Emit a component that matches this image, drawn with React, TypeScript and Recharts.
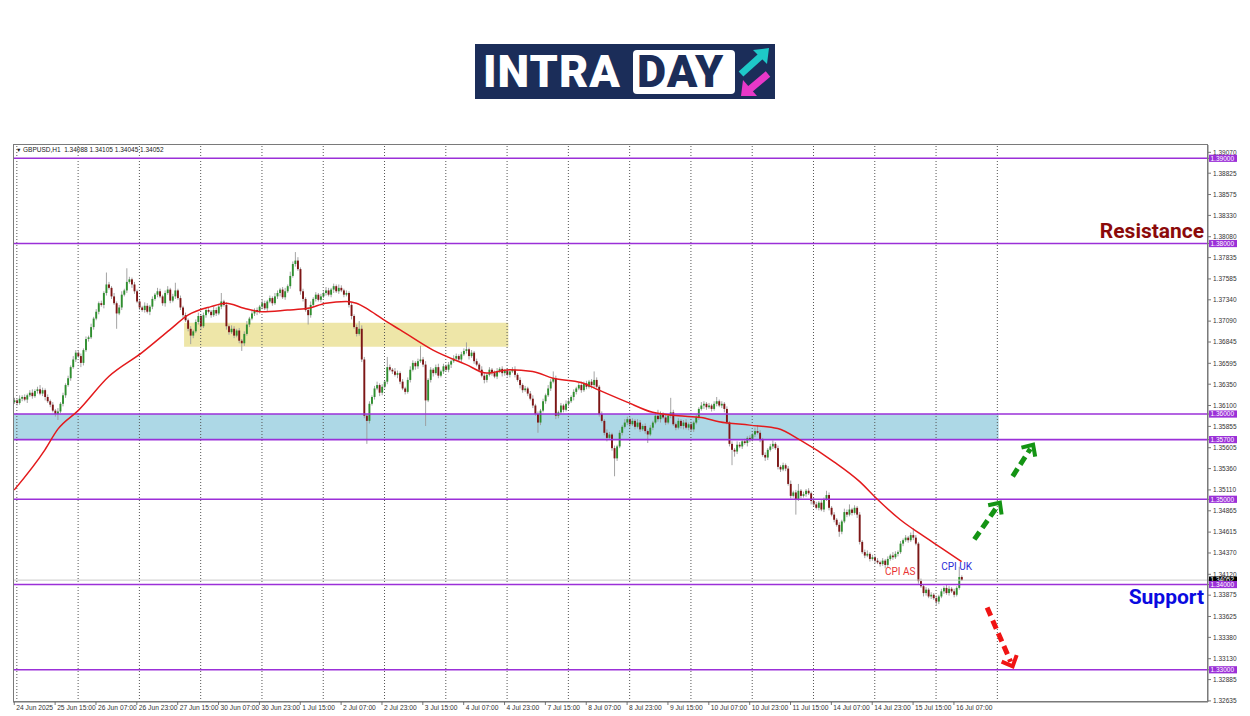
import React from 'react';
import { ComposedChart, Bar, Line, XAxis, YAxis, ReferenceLine, ReferenceArea, ReferenceDot } from 'recharts';

// ---------- DATA ----------
const firstOpen = 1.3614;
const closes = [
  1.3616, 1.3613, 1.3618, 1.3620, 1.3617, 1.3622, 1.3625, 1.3621, 1.3627, 1.3629,
  1.3624, 1.3628, 1.3620, 1.3615, 1.3611, 1.3604, 1.3600, 1.3603, 1.3612, 1.3622,
  1.3634, 1.3642, 1.3655, 1.3664, 1.3672, 1.3668, 1.3660, 1.3675, 1.3688, 1.3690,
  1.3702, 1.3712, 1.3720, 1.3730, 1.3728, 1.3742, 1.3752, 1.3748, 1.3738, 1.3730,
  1.3718, 1.3725, 1.3740, 1.3745, 1.3755, 1.3758, 1.3752, 1.3744, 1.3732, 1.3725,
  1.3722, 1.3727, 1.3720, 1.3726, 1.3735, 1.3740, 1.3744, 1.3738, 1.3730, 1.3742,
  1.3746, 1.3733, 1.3738, 1.3745, 1.3736, 1.3725, 1.3716, 1.3710, 1.3700, 1.3692,
  1.3697, 1.3708, 1.3715, 1.3703, 1.3716, 1.3722, 1.3720, 1.3716, 1.3722, 1.3718,
  1.3726, 1.3732, 1.3728, 1.3703, 1.3696, 1.3700, 1.3692, 1.3698, 1.3686, 1.3683,
  1.3694, 1.3705, 1.3712, 1.3718, 1.3722, 1.3720, 1.3726, 1.3730, 1.3724, 1.3732,
  1.3736, 1.3730, 1.3738, 1.3742, 1.3746, 1.3737, 1.3744, 1.3750, 1.3762, 1.3776,
  1.3780, 1.3770, 1.3744, 1.3735, 1.3722, 1.3716, 1.3728, 1.3735, 1.3740, 1.3734,
  1.3738, 1.3742, 1.3745, 1.3740, 1.3746, 1.3750, 1.3744, 1.3748, 1.3745, 1.3740,
  1.3742, 1.3728, 1.3715, 1.3702, 1.3694, 1.3700, 1.3664, 1.3598, 1.3592, 1.3612,
  1.3620, 1.3630, 1.3634, 1.3625, 1.3632, 1.3638, 1.3655, 1.3652, 1.3650, 1.3646,
  1.3648, 1.3638, 1.3630, 1.3626, 1.3640, 1.3652, 1.3660, 1.3656, 1.3662, 1.3664,
  1.3658, 1.3616, 1.3640, 1.3652, 1.3648, 1.3655, 1.3645, 1.3650, 1.3656, 1.3652,
  1.3658, 1.3662, 1.3665, 1.3668, 1.3664, 1.3670, 1.3674, 1.3676, 1.3668, 1.3672,
  1.3662, 1.3658, 1.3652, 1.3645, 1.3640, 1.3646, 1.3652, 1.3648, 1.3644, 1.3650,
  1.3653, 1.3648, 1.3651, 1.3646, 1.3650, 1.3652, 1.3646, 1.3640, 1.3634, 1.3628,
  1.3630, 1.3624, 1.3618, 1.3610, 1.3600, 1.3590, 1.3604, 1.3615, 1.3622, 1.3630,
  1.3638, 1.3642, 1.3598, 1.3602, 1.3610, 1.3605, 1.3612, 1.3615, 1.3620, 1.3626,
  1.3630, 1.3634, 1.3628, 1.3636, 1.3632, 1.3638, 1.3634, 1.3640, 1.3632, 1.3600,
  1.3592, 1.3578, 1.3572, 1.3576, 1.3560, 1.3548, 1.3562, 1.3578, 1.3585, 1.3590,
  1.3594, 1.3588, 1.3592, 1.3585, 1.3590, 1.3582, 1.3586, 1.3580, 1.3576, 1.3584,
  1.3590, 1.3598, 1.3594, 1.3600, 1.3596, 1.3590, 1.3598, 1.3602, 1.3588, 1.3584,
  1.3592, 1.3586, 1.3590, 1.3584, 1.3588, 1.3582, 1.3590, 1.3596, 1.3606, 1.3610,
  1.3612, 1.3608, 1.3610, 1.3606, 1.3612, 1.3615, 1.3610, 1.3612, 1.3606, 1.3590,
  1.3565, 1.3558, 1.3556, 1.3564, 1.3562, 1.3568, 1.3566, 1.3572, 1.3570, 1.3576,
  1.3580, 1.3578, 1.3570, 1.3552, 1.3549, 1.3558, 1.3562, 1.3565, 1.3560, 1.3538,
  1.3535, 1.3540, 1.3536, 1.3518, 1.3504, 1.3508, 1.3500, 1.3510, 1.3504, 1.3506,
  1.3510, 1.3507, 1.3498, 1.3494, 1.3490, 1.3496, 1.3488, 1.3500, 1.3505, 1.3490,
  1.3482, 1.3476, 1.3470, 1.3462, 1.3474, 1.3485, 1.3482, 1.3488, 1.3484, 1.3490,
  1.3482, 1.3450, 1.3438, 1.3434, 1.3436, 1.3430, 1.3432, 1.3428, 1.3426, 1.3424,
  1.3428, 1.3423, 1.3430, 1.3434, 1.3432, 1.3436, 1.3438, 1.3448, 1.3452, 1.3455,
  1.3452, 1.3458, 1.3455, 1.3448, 1.3404, 1.3398, 1.3390, 1.3394, 1.3386, 1.3388,
  1.3384, 1.3380, 1.3386, 1.3392, 1.3396, 1.3390, 1.3395, 1.3392, 1.3388, 1.3396,
  1.34088, 1.34052,
];
// wick lengths in pips, read per candle
const upperWickPips = [
  3,2,4,2,3,2,3,4,2,3,5,3,2,3,2,3,2,4,2,3,
  2,3,2,4,3,2,3,2,3,2,4,2,3,2,3,2,14,3,2,4,
  2,3,4,2,16,3,2,3,2,3,2,4,3,2,3,2,4,3,2,3,
  4,2,3,9,2,3,2,3,2,3,2,3,4,2,3,2,3,2,4,3,
  3,10,2,3,2,4,3,2,3,2,3,4,2,3,2,3,2,4,3,2,
  3,2,4,3,2,3,4,2,5,3,10,4,2,3,2,3,4,2,3,2,
  3,2,4,3,2,3,2,4,3,2,3,2,3,2,3,9,4,3,2,3,
  2,3,4,2,3,2,12,3,2,4,3,2,3,2,3,4,3,2,3,16,
  3,4,2,3,2,3,4,2,3,2,3,2,4,3,2,3,3,8,2,3,
  2,3,2,4,3,2,3,2,3,4,2,3,2,3,2,3,4,2,3,2,
  3,2,3,4,2,3,2,3,2,4,3,8,3,2,3,2,4,3,2,3,
  2,3,4,2,3,2,3,10,3,2,3,2,4,3,2,3,2,3,2,4,
  3,2,3,2,4,3,2,3,2,3,2,4,7,3,2,3,2,17,3,2,
  3,2,3,4,2,3,2,3,2,4,3,2,3,2,3,5,2,3,2,3,
  2,3,2,4,3,2,3,2,3,2,4,7,3,2,3,2,3,4,2,3,
  2,3,2,3,4,2,3,8,2,3,2,3,2,4,3,2,3,2,5,3,
  2,3,2,3,2,4,3,6,2,3,2,3,2,3,4,2,3,2,3,2,
  3,2,3,2,4,3,2,3,2,3,2,3,8,3,2,3,2,3,2,3,
  2,3,2,3,2,4,3,2,3,2,12,2,
];
const lowerWickPips = [
  2,3,2,3,2,4,2,3,2,3,2,3,4,2,3,2,3,7,2,3,
  3,2,3,2,3,2,5,3,2,3,2,3,2,3,2,4,3,2,3,2,
  18,2,3,2,3,2,4,3,2,3,2,3,2,4,3,2,3,2,3,4,
  2,3,2,3,2,3,4,2,3,10,3,2,3,4,2,3,2,3,2,3,
  2,3,2,4,3,2,3,2,3,9,3,2,3,2,3,4,2,3,2,3,
  2,3,2,3,4,2,3,2,3,2,3,2,4,3,2,11,3,2,3,2,
  3,2,3,2,3,4,2,3,2,3,2,3,4,2,3,2,3,3,27,3,
  2,3,2,4,3,2,3,2,3,2,4,3,2,3,2,3,2,4,3,2,
  3,30,2,3,4,2,3,2,3,2,3,4,2,3,2,3,2,3,4,2,
  3,2,3,2,4,3,2,3,2,3,2,4,3,2,3,2,3,2,4,3,
  2,3,2,3,2,12,3,2,3,2,3,2,4,3,2,3,2,3,2,4,
  3,2,3,2,3,2,4,3,2,3,2,3,4,2,3,21,3,2,3,2,
  3,4,2,3,2,3,2,3,10,2,3,2,3,4,2,3,2,3,2,3,
  2,3,4,2,3,2,3,2,3,2,4,3,2,3,2,3,2,3,4,2,
  3,18,6,3,2,3,2,4,3,2,3,2,3,2,4,3,2,3,2,3,
  3,2,3,2,3,2,18,2,3,2,3,2,4,3,2,3,2,3,2,3,
  2,3,2,6,3,2,3,2,3,2,4,3,2,3,2,3,2,3,2,3,
  2,4,3,2,3,2,3,2,3,2,3,2,3,2,3,2,4,3,2,3,
  2,4,3,2,3,2,3,2,3,2,2,1,
];
// 50-period moving average, read at these bar positions
const maBars = [0, 12, 17, 25, 37, 50, 61, 68, 77, 83, 90, 97, 107, 115, 122, 130, 134, 139, 146, 151, 164, 177, 185, 194, 203, 211, 222, 229, 240, 250, 260, 269, 276, 288, 299, 308, 321, 331, 338, 347, 355, 363, 371];
const maValues = [1.3511, 1.3558, 1.3582, 1.3604, 1.3644, 1.3672, 1.3699, 1.3716, 1.3726, 1.3730, 1.3724, 1.3720, 1.3722, 1.3724, 1.3730, 1.3732, 1.3730, 1.3722, 1.3708, 1.3699, 1.3675, 1.3658, 1.3648, 1.3652, 1.3650, 1.3642, 1.3637, 1.3628, 1.3614, 1.3602, 1.3598, 1.3596, 1.3591, 1.3587, 1.3583, 1.3569, 1.3544, 1.3521, 1.3500, 1.3476, 1.3459, 1.3443, 1.3427];

const xLabels = ['24 Jun 2025', '25 Jun 15:00', '26 Jun 07:00', '26 Jun 23:00', '27 Jun 15:00', '30 Jun 07:00', '30 Jun 23:00', '1 Jul 15:00', '2 Jul 07:00', '2 Jul 23:00', '3 Jul 15:00', '4 Jul 07:00', '4 Jul 23:00', '7 Jul 15:00', '8 Jul 07:00', '8 Jul 23:00', '9 Jul 15:00', '10 Jul 07:00', '10 Jul 23:00', '11 Jul 15:00', '14 Jul 07:00', '14 Jul 23:00', '15 Jul 15:00', '16 Jul 07:00'];
const xLabelEvery = 16;
const dayStartBars = [1, 25, 49, 73, 97, 121, 145, 169, 193, 217, 241, 265, 289, 313, 337, 361, 385];
const totalSlots = 468;

const yTicks = [1.3907, 1.38825, 1.38575, 1.3833, 1.3808, 1.37835, 1.37585, 1.3734, 1.3709, 1.36845, 1.36595, 1.3635, 1.361, 1.35855, 1.35605, 1.3536, 1.3511, 1.34865, 1.34615, 1.3437, 1.3412, 1.33875, 1.33625, 1.3338, 1.3313, 1.32885, 1.32635];
const levels = [1.39, 1.38, 1.36, 1.357, 1.35, 1.34, 1.33];
const bidPrice = 1.34052;
const headerText = 'GBPUSD,H1  1.34088 1.34105 1.34045 1.34052';

const blueZone = { x1: 0, x2: 385, y1: 1.357, y2: 1.36 };
const yellowZone = { x1: 67, x2: 193, y1: 1.3679, y2: 1.3707 };

const arrows = [
  { from: [376, 1.3453], to: [386, 1.3496], color: '#149414' },
  { from: [391, 1.3527], to: [399, 1.3564], color: '#149414' },
  { from: [381, 1.3373], to: [391, 1.3304], color: '#f01414' },
];
const notes = [
  { text: 'Resistance', bar: 466, price: 1.3806, color: '#8b0a0a', size: 21, weight: 700, anchor: 'end' },
  { text: 'Support', bar: 466, price: 1.33773, color: '#0a0ae0', size: 21, weight: 700, anchor: 'end' },
  { text: 'CPI AS', bar: 341, price: 1.34117, color: '#e83232', size: 10, weight: 400, anchor: 'start' },
  { text: 'CPI UK', bar: 363, price: 1.34167, color: '#2a2ad6', size: 10, weight: 400, anchor: 'start' },
];

// ---------- BUILD ROWS ----------
const maMap = new Map(maBars.map((b, k) => [b, maValues[k]]));
const rows = Array.from({ length: totalSlots }, (_, i) => {
  if (i >= closes.length) return { i, range: null, ma: null };
  const o = i === 0 ? firstOpen : closes[i - 1];
  const c = closes[i];
  const h = Math.max(o, c) + upperWickPips[i] * 0.0001;
  const l = Math.min(o, c) - lowerWickPips[i] * 0.0001;
  return { i, o, c, h, l, range: [l, h], ma: maMap.has(i) ? maMap.get(i) : null };
});

const PURPLE = '#9b30d8';
const AXIS_FONT = '"Liberation Sans", Arial, sans-serif';

const Candle = (props: any) => {
  const { x, y, width, height, payload } = props;
  if (!payload || payload.h == null) return null;
  const top = Math.min(y, y + height);
  const span = Math.abs(height);
  const { o, c, h, l } = payload;
  const py = (v: number) => (h === l ? top : top + ((h - v) / (h - l)) * span);
  const cx = x + width / 2;
  const bTop = py(Math.max(o, c));
  const bBot = py(Math.min(o, c));
  const bw = 1.9;
  const bull = c >= o;
  return (
    <g>
      <line x1={cx} x2={cx} y1={top} y2={top + span} stroke="#9a9a9a" strokeWidth={0.9} />
      <rect x={cx - bw / 2} y={bTop} width={bw} height={Math.max(0.8, bBot - bTop)} fill={bull ? '#2f8f2f' : '#7d1616'} />
    </g>
  );
};

const XTick = (props: any) => {
  const { x, y, payload } = props;
  const i = payload.value;
  if (i % xLabelEvery !== 0) return null;
  const label = xLabels[i / xLabelEvery];
  if (!label) return null;
  return (
    <g>
      <line x1={x} x2={x} y1={y} y2={y + 3} stroke="#555" strokeWidth={0.8} />
      <text x={x + 2} y={y + 8.3} fontSize={6.7} fill="#333" fontFamily={AXIS_FONT}>{label}</text>
    </g>
  );
};

const YTick = (props: any) => {
  const { x, y, payload } = props;
  const v = payload.value;
  if (v === bidPrice) {
    return (
      <g>
        <rect x={x - 4} y={y - 3.6} width={28} height={7.2} fill="#000" />
        <text x={x - 2.5} y={y + 2.3} fontSize={6.5} fill="#fff" fontFamily={AXIS_FONT}>{v.toFixed(5)}</text>
      </g>
    );
  }
  if (levels.includes(v)) {
    return (
      <g>
        <rect x={x - 4} y={y - 3.6} width={28} height={7.2} fill={PURPLE} />
        <text x={x - 2.5} y={y + 2.3} fontSize={6.5} fill="#fff" fontFamily={AXIS_FONT}>{v.toFixed(5)}</text>
      </g>
    );
  }
  return <text x={x} y={y + 2.3} fontSize={6.5} fill="#333" fontFamily={AXIS_FONT}>{v.toFixed(5)}</text>;
};

const arrowShape = (color: string) => (p: any) => {
  const { x1, y1, x2, y2 } = p;
  const ang = Math.atan2(y2 - y1, x2 - x1);
  const L = 12;
  const s = 0.75;
  const ax = x2 - L * Math.cos(ang - s);
  const ay = y2 - L * Math.sin(ang - s);
  const bx = x2 - L * Math.cos(ang + s);
  const by = y2 - L * Math.sin(ang + s);
  const ex = x2 - 5 * Math.cos(ang);
  const ey = y2 - 5 * Math.sin(ang);
  return (
    <g>
      <line x1={x1} y1={y1} x2={ex} y2={ey} stroke={color} strokeWidth={5} strokeDasharray="9 5" />
      <polyline points={`${ax},${ay} ${x2},${y2} ${bx},${by}`} fill="none" stroke={color} strokeWidth={4} strokeLinejoin="miter" />
    </g>
  );
};

const noteShape = (n: any) => (p: any) => (
  <text x={p.cx} y={p.cy} textAnchor={n.anchor} fontSize={n.size} fontWeight={n.weight} fill={n.color} fontFamily="Roboto, 'Noto Sans', sans-serif">
    {n.text}
  </text>
);

const Logo = () => (
  <div style={{ position: 'absolute', left: 475, top: 44, width: 300, height: 55, background: '#1b2d59' }}>
    <div style={{ position: 'absolute', left: 8, top: 0, height: 55, lineHeight: '55px', color: '#fff', fontFamily: 'Roboto, sans-serif', fontWeight: 900, fontSize: 45, letterSpacing: 1 }}>INTRA</div>
    <div style={{ position: 'absolute', left: 158, top: 6, width: 102, height: 44, background: '#fff', borderRadius: 4 }} />
    <div style={{ position: 'absolute', left: 162, top: 0, height: 55, lineHeight: '55px', color: '#1b2d59', fontFamily: 'Roboto, sans-serif', fontWeight: 900, fontSize: 45, letterSpacing: 1 }}>DAY</div>
    <svg style={{ position: 'absolute', left: 262, top: 2 }} width={36} height={52}>
      <line x1={4} y1={28} x2={24} y2={10} stroke="#1ec8c8" strokeWidth={7} />
      <polygon points="16,4 32,2 30,18" fill="#1ec8c8" />
      <line x1={31} y1={28} x2={12} y2={44} stroke="#e838c8" strokeWidth={7} />
      <polygon points="20,50 4,50 6,34" fill="#e838c8" />
    </svg>
  </div>
);

export default function App() {
  return (
    <div style={{ position: 'absolute', left: 0, top: 0, width: 1250, height: 716, background: '#fff', overflow: 'hidden' }}>
      <Logo />
      <ComposedChart width={1250} height={716} data={rows} margin={{ top: 145, right: 0, bottom: 0, left: 13 }} barCategoryGap={0}>
        <XAxis dataKey="i" type="category" interval={0} height={14} tick={<XTick />} tickLine={false} tickSize={0} tickMargin={0} axisLine={{ stroke: '#777' }} />
        <YAxis orientation="right" type="number" domain={[1.32622, 1.39156]} allowDataOverflow ticks={[...yTicks, bidPrice, ...levels]} interval={0} width={42} tick={<YTick />} tickSize={3} tickLine={{ stroke: '#777' }} axisLine={{ stroke: '#777' }} />
        <ReferenceArea x1={blueZone.x1} x2={blueZone.x2} y1={blueZone.y1} y2={blueZone.y2} fill="#add8e6" fillOpacity={1} stroke="none" />
        <ReferenceArea x1={yellowZone.x1} x2={yellowZone.x2} y1={yellowZone.y1} y2={yellowZone.y2} fill="#eee6a8" fillOpacity={1} stroke="none" />
        {dayStartBars.map((d) => (
          <ReferenceLine key={'d' + d} x={d} stroke="#555" strokeDasharray="1 2" strokeWidth={1} />
        ))}
        <ReferenceLine y={bidPrice} stroke="#c8c8c8" strokeWidth={1} />
        {levels.map((v) => (
          <ReferenceLine key={'l' + v} y={v} stroke={PURPLE} strokeWidth={1.6} />
        ))}
        <Bar dataKey="range" shape={<Candle />} isAnimationActive={false} />
        <Line dataKey="ma" type="monotone" stroke="#e31a1c" strokeWidth={1.5} dot={false} connectNulls isAnimationActive={false} />
        {arrows.map((a, k) => (
          <ReferenceLine key={'a' + k} segment={[{ x: a.from[0], y: a.from[1] }, { x: a.to[0], y: a.to[1] }]} shape={arrowShape(a.color)} />
        ))}
        {notes.map((n) => (
          <ReferenceDot key={n.text} x={n.bar} y={n.price} r={0} shape={noteShape(n)} />
        ))}
      </ComposedChart>
      <div style={{ position: 'absolute', left: 13, top: 144, width: 1195, height: 558, border: '1px solid #7a7a7a', boxSizing: 'border-box', pointerEvents: 'none' }} />
      <div style={{ position: 'absolute', left: 16, top: 146, fontSize: 6.5, fontFamily: AXIS_FONT, color: '#222', whiteSpace: 'pre' }}>
        <span style={{ fontSize: 5.5 }}>▼ </span>{headerText}
      </div>
    </div>
  );
}
